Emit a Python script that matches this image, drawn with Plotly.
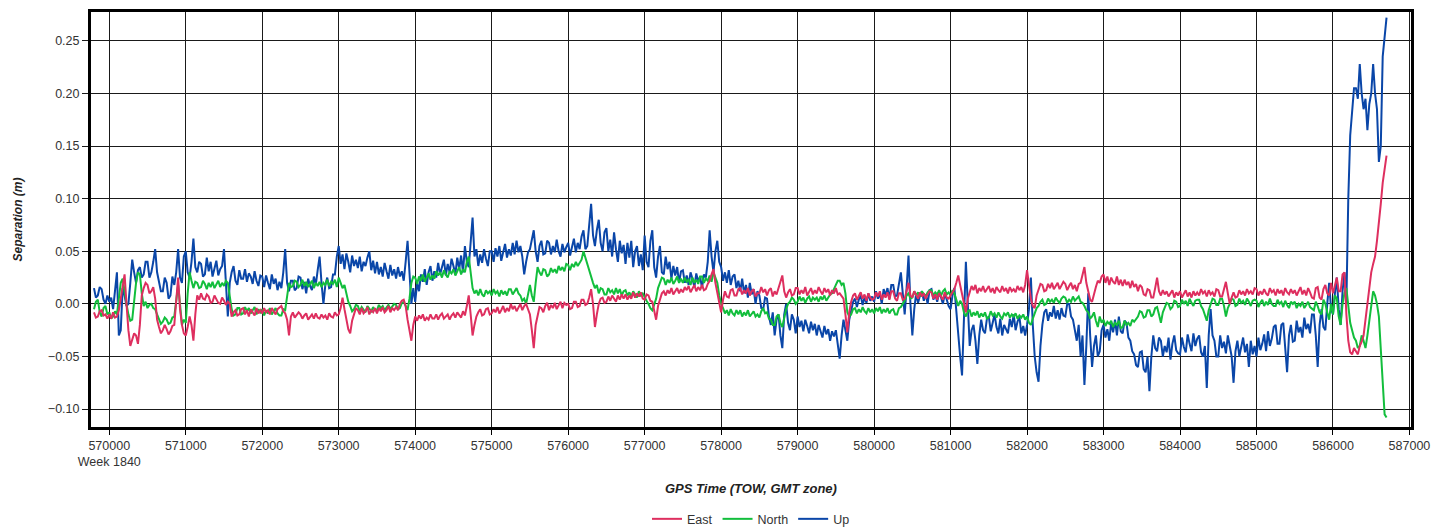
import plotly.graph_objects as go

T0 = 569800
STEP = 25

east = [
    -0.008, -0.013, -0.012, -0.007, -0.006, -0.011, -0.010, -0.014,
    # 570000
    -0.010, -0.014, -0.008, -0.013, -0.012, -0.006, 0.005, 0.018, 0.028, 0.000,
    -0.025, -0.040, -0.035, -0.028, -0.030, -0.038, -0.020, 0.008, 0.015, 0.020,
    0.018, 0.010, 0.012, 0.016, 0.005, -0.015, -0.022, -0.028, -0.025, -0.020,
    -0.024, -0.029, -0.026, -0.021, -0.020, 0.005, 0.025, -0.005, -0.020, -0.028,
    # 571000
    -0.030, -0.022, -0.012, -0.020, -0.035, -0.010, 0.008, 0.004, 0.010, 0.005,
    0.004, 0.009, 0.007, 0.001, 0.002, 0.008, 0.005, 0.001, 0.000, 0.006,
    0.003, -0.001, 0.002, 0.000, -0.012, -0.008, -0.006, -0.011, -0.010, -0.005,
    -0.004, -0.010, -0.006, -0.012, -0.005, -0.008, -0.011, -0.004, -0.009, -0.006,
    # 572000
    -0.009, -0.004, -0.008, -0.006, -0.010, -0.004, -0.007, -0.010, -0.005, -0.003,
    -0.002, -0.007, -0.009, -0.015, -0.030, -0.012, -0.008, -0.013, -0.010, -0.008,
    -0.010, -0.014, -0.011, -0.009, -0.015, -0.012, -0.010, -0.014, -0.009, -0.013,
    -0.014, -0.010, -0.013, -0.011, -0.015, -0.009, -0.012, -0.013, -0.008, -0.011,
    # 573000
    -0.010, -0.004, 0.006, -0.005, -0.015, -0.024, -0.028, -0.016, -0.010, -0.004,
    -0.006, -0.010, -0.004, -0.009, -0.007, -0.003, -0.010, -0.006, -0.008, -0.004,
    -0.009, -0.004, -0.007, -0.003, -0.008, -0.006, -0.002, -0.008, -0.004, -0.006,
    -0.003, -0.006, 0.000, 0.003, 0.004, -0.002, -0.015, -0.025, -0.035, -0.020,
    # 574000
    -0.012, -0.016, -0.011, -0.014, -0.010, -0.016, -0.013, -0.015, -0.010, -0.014,
    -0.014, -0.010, -0.015, -0.011, -0.009, -0.014, -0.012, -0.010, -0.015, -0.011,
    -0.009, -0.013, -0.008, -0.011, -0.013, -0.007, -0.011, -0.002, 0.008, -0.010,
    -0.030, -0.020, -0.012, -0.008, -0.005, -0.011, -0.010, -0.005, -0.004, -0.010,
    # 575000
    -0.009, -0.005, -0.008, -0.003, -0.009, -0.006, -0.002, -0.008, -0.004, -0.007,
    0.000, -0.005, -0.002, -0.007, -0.003, 0.000, -0.006, -0.002, 0.000, -0.006,
    -0.010, -0.025, -0.042, -0.020, -0.010, -0.003, -0.004, -0.008, -0.002, 0.001,
    -0.006, -0.001, -0.004, 0.001, -0.005, -0.002, 0.002, -0.004, 0.001, -0.001,
    # 576000
    0.000, -0.005, -0.004, 0.002, 0.002, -0.003, -0.002, 0.004, 0.004, -0.001,
    0.000, 0.006, 0.014, 0.000, -0.022, -0.010, 0.000, 0.005, 0.006, 0.001,
    0.002, 0.007, 0.003, 0.008, 0.005, 0.002, 0.008, 0.004, 0.009, 0.005,
    0.009, 0.004, 0.008, 0.005, 0.011, 0.006, 0.010, 0.007, 0.011, 0.005,
    # 577000
    0.004, 0.009, 0.008, 0.003, 0.002, -0.008, -0.015, -0.002, 0.005, 0.010,
    0.012, 0.008, 0.013, 0.010, 0.015, 0.009, 0.012, 0.015, 0.010, 0.014,
    0.011, 0.016, 0.013, 0.017, 0.011, 0.015, 0.018, 0.012, 0.016, 0.013,
    0.018, 0.013, 0.014, 0.019, 0.022, 0.028, 0.033, 0.020, 0.010, 0.000,
    # 578000
    -0.008, 0.004, 0.012, 0.007, 0.006, 0.013, 0.014, 0.008, 0.008, 0.014,
    0.015, 0.009, 0.013, 0.010, 0.015, 0.008, 0.012, 0.014, 0.007, 0.010,
    0.010, 0.016, 0.011, 0.014, 0.008, 0.013, 0.015, 0.007, 0.012, 0.009,
    0.015, 0.020, 0.027, 0.012, 0.006, 0.011, 0.014, 0.008, 0.009, 0.015,
    # 579000
    0.015, 0.009, 0.013, 0.010, 0.016, 0.008, 0.012, 0.015, 0.009, 0.013,
    0.010, 0.016, 0.012, 0.009, 0.015, 0.011, 0.014, 0.008, 0.013, 0.010,
    0.015, 0.009, 0.010, 0.008, 0.005, -0.010, -0.027, -0.008, 0.002, 0.008,
    0.010, 0.004, 0.008, 0.011, 0.005, 0.009, 0.003, 0.010, 0.006, 0.004,
    # 580000
    0.005, 0.011, 0.007, 0.012, 0.004, 0.009, 0.006, 0.011, 0.004, 0.012,
    0.012, 0.005, 0.003, 0.010, 0.010, 0.004, 0.005, 0.012, 0.020, 0.008,
    0.006, 0.012, 0.008, 0.005, 0.011, 0.007, 0.010, 0.005, 0.009, 0.012,
    0.011, 0.005, 0.009, 0.004, 0.010, 0.007, 0.004, 0.011, 0.006, 0.005,
    # 581000
    0.008, 0.012, 0.014, 0.020, 0.027, 0.018, 0.010, 0.000, -0.008, 0.005,
    0.012, 0.017, 0.013, 0.018, 0.010, 0.015, 0.012, 0.017, 0.011, 0.014,
    0.017, 0.011, 0.015, 0.010, 0.016, 0.013, 0.011, 0.017, 0.012, 0.015,
    0.010, 0.016, 0.012, 0.014, 0.011, 0.017, 0.013, 0.016, 0.011, 0.018,
    # 582000
    0.032, 0.018, 0.005, -0.002, -0.004, 0.008, 0.014, 0.019, 0.018, 0.012,
    0.013, 0.019, 0.015, 0.020, 0.014, 0.017, 0.020, 0.014, 0.018, 0.021,
    0.019, 0.013, 0.017, 0.020, 0.014, 0.018, 0.012, 0.019, 0.020, 0.028,
    0.035, 0.020, 0.010, 0.004, 0.002, 0.010, 0.016, 0.022, 0.020, 0.026,
    # 583000
    0.028, 0.020, 0.026, 0.018, 0.025, 0.021, 0.019, 0.026, 0.018, 0.023,
    0.017, 0.023, 0.018, 0.021, 0.015, 0.022, 0.016, 0.019, 0.012, 0.018,
    0.016, 0.009, 0.008, 0.014, 0.013, 0.006, 0.006, 0.015, 0.025, 0.012,
    0.008, 0.013, 0.009, 0.012, 0.007, 0.010, 0.013, 0.006, 0.011, 0.008,
    # 584000
    0.012, 0.006, 0.010, 0.013, 0.007, 0.011, 0.006, 0.012, 0.008, 0.011,
    0.008, 0.014, 0.010, 0.012, 0.007, 0.013, 0.009, 0.011, 0.007, 0.014,
    0.013, 0.007, 0.007, 0.013, 0.021, 0.010, 0.000, 0.006, 0.011, 0.006,
    0.007, 0.013, 0.009, 0.012, 0.008, 0.014, 0.010, 0.012, 0.009, 0.015,
    # 585000
    0.014, 0.008, 0.012, 0.009, 0.014, 0.010, 0.008, 0.015, 0.011, 0.013,
    0.008, 0.014, 0.010, 0.013, 0.008, 0.015, 0.011, 0.009, 0.014, 0.010,
    0.013, 0.008, 0.012, 0.016, 0.009, 0.013, 0.008, 0.015, 0.011, 0.006,
    0.005, 0.015, 0.016, 0.006, 0.004, 0.014, 0.018, 0.010, 0.008, 0.020,
    # 586000
    0.010, 0.018, 0.025, 0.012, 0.012, 0.028, 0.030, -0.010, -0.035, -0.046,
    -0.048, -0.042, -0.045, -0.048, -0.040, -0.036, -0.030, -0.015, 0.005, 0.018,
    0.030, 0.038, 0.045, 0.060, 0.075, 0.095, 0.115, 0.130, 0.141,
]

north = [
    -0.005, 0.002, 0.004, -0.008, -0.012, -0.004, -0.002, -0.010,
    # 570000
    -0.008, -0.014, -0.012, -0.007, -0.010, 0.005, 0.020, 0.024, 0.010, 0.000,
    -0.010, -0.016, -0.015, 0.005, 0.020, 0.030, 0.028, 0.010, -0.002, 0.002,
    -0.004, -0.001, 0.000, -0.004, -0.005, -0.010, -0.014, -0.019, -0.017, -0.013,
    -0.015, -0.019, -0.018, -0.013, -0.012, 0.005, 0.018, 0.000, -0.020, -0.015,
    # 571000
    -0.018, 0.010, 0.030, 0.022, 0.015, 0.021, 0.020, 0.015, 0.016, 0.022,
    0.019, 0.014, 0.020, 0.016, 0.021, 0.015, 0.018, 0.022, 0.016, 0.020,
    0.017, 0.022, 0.020, 0.008, -0.005, -0.011, -0.010, -0.004, -0.004, -0.010,
    -0.009, -0.003, -0.007, -0.004, -0.009, -0.006, -0.003, -0.010, -0.005, -0.008,
    # 572000
    -0.005, -0.011, -0.006, -0.009, -0.004, -0.010, -0.007, -0.004, -0.009, -0.011,
    -0.011, -0.005, -0.006, 0.005, 0.020, 0.016, 0.017, 0.022, 0.021, 0.016,
    0.018, 0.023, 0.017, 0.021, 0.016, 0.019, 0.022, 0.015, 0.020, 0.017,
    0.021, 0.016, 0.020, 0.018, 0.023, 0.017, 0.021, 0.019, 0.023, 0.016,
    # 573000
    0.025, 0.020, 0.015, 0.018, 0.010, 0.002, -0.002, -0.007, -0.005, -0.001,
    -0.002, -0.007, -0.003, -0.006, -0.008, -0.002, -0.005, -0.007, -0.003, -0.006,
    -0.006, -0.001, -0.004, -0.002, -0.006, -0.003, -0.001, -0.005, -0.002, 0.000,
    -0.001, -0.005, -0.004, 0.001, 0.002, -0.003, -0.006, 0.005, 0.020, 0.026,
    # 574000
    0.025, 0.019, 0.026, 0.022, 0.028, 0.021, 0.025, 0.029, 0.023, 0.027,
    0.024, 0.031, 0.027, 0.030, 0.025, 0.032, 0.028, 0.025, 0.031, 0.029,
    0.033, 0.027, 0.031, 0.035, 0.028, 0.033, 0.030, 0.040, 0.045, 0.030,
    0.015, 0.010, 0.013, 0.008, 0.014, 0.009, 0.007, 0.013, 0.010, 0.012,
    # 575000
    0.008, 0.014, 0.010, 0.012, 0.007, 0.013, 0.009, 0.012, 0.008, 0.014,
    0.014, 0.009, 0.012, 0.015, 0.010, 0.008, 0.003, 0.005, 0.000, 0.008,
    0.018, 0.008, 0.002, 0.020, 0.035, 0.030, 0.027, 0.033, 0.032, 0.026,
    0.028, 0.034, 0.030, 0.033, 0.029, 0.036, 0.032, 0.035, 0.031, 0.038,
    # 576000
    0.037, 0.032, 0.038, 0.035, 0.040, 0.036, 0.039, 0.042, 0.050, 0.044,
    0.038, 0.030, 0.025, 0.020, 0.015, 0.018, 0.010, 0.015, 0.014, 0.009,
    0.009, 0.015, 0.011, 0.013, 0.009, 0.015, 0.010, 0.014, 0.008, 0.012,
    0.013, 0.008, 0.011, 0.007, 0.012, 0.009, 0.006, 0.012, 0.008, 0.010,
    # 577000
    0.006, 0.003, 0.000, -0.004, -0.006, 0.000, 0.005, 0.015, 0.020, 0.025,
    0.024, 0.018, 0.023, 0.020, 0.025, 0.019, 0.022, 0.026, 0.020, 0.024,
    0.020, 0.025, 0.021, 0.023, 0.018, 0.025, 0.020, 0.023, 0.019, 0.026,
    0.026, 0.020, 0.024, 0.022, 0.027, 0.021, 0.030, 0.025, 0.020, 0.008,
    # 578000
    0.000, -0.004, -0.009, -0.006, -0.011, -0.005, -0.009, -0.011, -0.006, -0.010,
    -0.006, -0.012, -0.008, -0.011, -0.006, -0.012, -0.009, -0.007, -0.012, -0.010,
    -0.013, -0.007, -0.004, -0.009, -0.008, -0.014, -0.015, -0.020, -0.020, -0.012,
    -0.010, -0.018, -0.022, -0.012, -0.005, 0.000, 0.002, 0.006, 0.004, 0.000,
    # 579000
    0.002, 0.007, 0.003, 0.006, 0.001, 0.005, 0.007, 0.002, 0.006, 0.004,
    0.006, 0.002, 0.007, 0.004, 0.008, 0.003, 0.006, 0.009, 0.010, 0.015,
    0.018, 0.022, 0.022, 0.018, 0.020, 0.010, -0.008, -0.012, -0.010, -0.005,
    -0.004, -0.009, -0.005, -0.008, -0.003, -0.007, -0.009, -0.004, -0.008, -0.005,
    # 580000
    -0.009, -0.004, -0.007, -0.003, -0.009, -0.005, -0.008, -0.004, -0.009, -0.006,
    -0.005, -0.010, -0.010, -0.004, -0.003, 0.000, 0.003, 0.008, 0.010, 0.005,
    0.006, 0.012, 0.008, 0.011, 0.007, 0.012, 0.009, 0.007, 0.011, 0.013,
    0.013, 0.008, 0.011, 0.009, 0.013, 0.008, 0.012, 0.014, 0.009, 0.011,
    # 581000
    0.008, 0.013, 0.010, 0.004, -0.002, 0.003, 0.000, -0.008, -0.012, -0.007,
    -0.006, -0.012, -0.008, -0.011, -0.007, -0.013, -0.009, -0.012, -0.008, -0.014,
    -0.013, -0.007, -0.011, -0.009, -0.013, -0.008, -0.012, -0.014, -0.009, -0.011,
    -0.008, -0.013, -0.010, -0.012, -0.009, -0.014, -0.011, -0.013, -0.010, -0.015,
    # 582000
    -0.012, -0.018, -0.020, -0.014, -0.008, -0.004, -0.002, 0.002, 0.004, -0.001,
    0.000, 0.005, 0.002, 0.004, 0.001, 0.006, 0.003, 0.001, 0.005, 0.007,
    0.006, 0.001, 0.004, 0.002, 0.007, 0.003, 0.005, 0.007, 0.002, 0.001,
    -0.002, -0.006, -0.008, -0.014, -0.012, -0.008, -0.016, -0.022, -0.012, -0.018,
    # 583000
    -0.015, -0.021, -0.017, -0.019, -0.016, -0.022, -0.018, -0.020, -0.016, -0.023,
    -0.022, -0.016, -0.020, -0.018, -0.021, -0.015, -0.017, -0.014, -0.012, -0.007,
    -0.008, -0.013, -0.012, -0.006, -0.006, -0.012, -0.010, -0.004, -0.003, -0.010,
    -0.018, -0.008, -0.004, 0.001, 0.000, -0.005, -0.003, 0.003, 0.002, -0.003,
    # 584000
    -0.002, 0.004, 0.000, 0.003, -0.002, 0.005, 0.001, -0.002, 0.003, 0.004,
    0.004, -0.002, -0.005, -0.010, -0.016, -0.006, 0.000, 0.005, 0.004, -0.001,
    -0.001, 0.005, 0.005, -0.002, -0.012, -0.004, 0.000, 0.005, 0.004, -0.002,
    -0.001, 0.005, 0.001, 0.003, -0.001, 0.005, 0.002, -0.002, 0.003, 0.004,
    # 585000
    0.003, -0.003, 0.001, 0.004, -0.002, 0.002, -0.001, 0.005, 0.000, -0.002,
    -0.002, 0.004, 0.000, 0.002, -0.003, 0.003, -0.001, -0.004, 0.002, 0.000,
    0.002, -0.004, 0.000, -0.002, 0.002, -0.004, -0.001, 0.002, -0.003, -0.005,
    -0.006, 0.002, -0.002, -0.008, -0.010, 0.004, 0.000, -0.008, -0.015, 0.000,
    # 586000
    -0.010, 0.008, 0.005, -0.012, -0.020, 0.000, 0.010, 0.015, -0.005, -0.018,
    -0.025, -0.032, -0.035, -0.042, -0.040, -0.030, -0.035, -0.042, -0.030, -0.015,
    0.000, 0.012, 0.008, 0.000, -0.012, -0.045, -0.070, -0.105, -0.108,
]

up = [
    0.015, 0.006, 0.008, 0.016, 0.014, 0.004, 0.000, 0.008,
    # 570000
    0.002, 0.006, -0.005, 0.010, 0.030, -0.030, -0.025, 0.015, 0.008, -0.002,
    0.000, 0.020, 0.042, 0.030, 0.020, 0.032, 0.035, 0.025, 0.028, 0.040,
    0.040, 0.025, 0.030, 0.040, 0.052, 0.030, 0.020, 0.012, 0.012, 0.025,
    0.020, 0.005, 0.008, 0.026, 0.018, 0.030, 0.052, 0.025, 0.020, 0.045,
    # 571000
    0.050, 0.030, 0.025, 0.040, 0.062, 0.035, 0.030, 0.040, 0.038, 0.026,
    0.028, 0.044, 0.031, 0.040, 0.026, 0.035, 0.041, 0.027, 0.033, 0.036,
    0.052, 0.020, -0.012, 0.020, 0.030, 0.036, 0.022, 0.018, 0.032, 0.024,
    0.024, 0.033, 0.021, 0.029, 0.026, 0.019, 0.031, 0.022, 0.017, 0.027,
    # 572000
    0.026, 0.016, 0.027, 0.020, 0.014, 0.028, 0.019, 0.024, 0.013, 0.021,
    0.015, 0.030, 0.052, 0.020, 0.012, 0.022, 0.022, 0.013, 0.015, 0.026,
    0.025, 0.014, 0.021, 0.010, 0.024, 0.017, 0.013, 0.026, 0.018, 0.032,
    0.045, 0.020, 0.000, 0.018, 0.025, 0.015, 0.016, 0.028, 0.028, 0.045,
    # 573000
    0.055, 0.038, 0.047, 0.033, 0.048, 0.040, 0.030, 0.046, 0.036, 0.042,
    0.034, 0.045, 0.031, 0.040, 0.036, 0.044, 0.050, 0.032, 0.041, 0.029,
    0.040, 0.028, 0.035, 0.026, 0.039, 0.031, 0.024, 0.037, 0.027, 0.033,
    0.024, 0.035, 0.026, 0.031, 0.022, 0.040, 0.060, 0.030, 0.000, 0.015,
    # 574000
    0.002, 0.020, 0.012, 0.028, 0.021, 0.033, 0.018, 0.030, 0.036, 0.022,
    0.031, 0.025, 0.039, 0.028, 0.035, 0.042, 0.027, 0.038, 0.030, 0.043,
    0.036, 0.028, 0.044, 0.033, 0.046, 0.030, 0.055, 0.040, 0.035, 0.056,
    0.082, 0.045, 0.052, 0.036, 0.047, 0.039, 0.052, 0.043, 0.036, 0.050,
    # 575000
    0.050, 0.040, 0.053, 0.045, 0.055, 0.041, 0.049, 0.057, 0.044, 0.052,
    0.046, 0.058, 0.047, 0.060, 0.049, 0.055, 0.045, 0.028, 0.040, 0.049,
    0.052, 0.062, 0.070, 0.050, 0.040, 0.055, 0.060, 0.047, 0.048, 0.060,
    0.058, 0.047, 0.055, 0.049, 0.061, 0.050, 0.045, 0.057, 0.049, 0.054,
    # 576000
    0.058, 0.046, 0.055, 0.062, 0.049, 0.058, 0.052, 0.064, 0.070, 0.052,
    0.055, 0.075, 0.095, 0.065, 0.055, 0.070, 0.080, 0.058, 0.050, 0.068,
    0.072, 0.050, 0.061, 0.045, 0.068, 0.052, 0.040, 0.060, 0.048, 0.056,
    0.038, 0.058, 0.044, 0.060, 0.035, 0.050, 0.055, 0.036, 0.047, 0.032,
    # 577000
    0.065, 0.040, 0.035, 0.060, 0.070, 0.035, 0.025, 0.045, 0.055, 0.030,
    0.028, 0.045, 0.033, 0.040, 0.024, 0.036, 0.027, 0.035, 0.020, 0.031,
    0.032, 0.020, 0.027, 0.018, 0.030, 0.024, 0.016, 0.029, 0.021, 0.026,
    0.015, 0.028, 0.025, 0.040, 0.070, 0.045, 0.030, 0.050, 0.060, 0.040,
    # 578000
    0.035, 0.022, 0.030, 0.020, 0.032, 0.018, 0.026, 0.028, 0.015, 0.022,
    0.012, 0.024, 0.010, 0.018, 0.006, 0.020, 0.009, 0.014, 0.000, 0.012,
    0.008, -0.004, -0.005, 0.006, 0.005, -0.012, -0.020, -0.008, -0.030, -0.015,
    -0.010, -0.030, -0.042, -0.010, 0.000, -0.018, -0.025, -0.010, -0.015, -0.028,
    # 579000
    -0.012, -0.022, -0.016, -0.026, -0.015, -0.021, -0.028, -0.017, -0.025, -0.019,
    -0.030, -0.020, -0.027, -0.032, -0.021, -0.029, -0.024, -0.035, -0.026, -0.031,
    -0.025, -0.040, -0.052, -0.030, -0.015, -0.025, -0.035, -0.015, -0.005, 0.002,
    0.005, -0.003, 0.004, 0.008, -0.001, 0.006, 0.001, 0.010, 0.003, 0.007,
    # 580000
    0.002, 0.012, 0.005, 0.010, 0.000, 0.014, 0.008, 0.015, 0.005, 0.018,
    0.018, 0.007, 0.008, 0.020, 0.030, 0.010, -0.010, 0.015, 0.046, 0.000,
    -0.030, -0.005, 0.010, 0.001, 0.008, 0.012, 0.003, 0.009, 0.000, 0.013,
    0.014, 0.004, 0.009, 0.002, 0.011, 0.006, 0.000, 0.010, 0.003, -0.002,
    # 581000
    -0.005, 0.008, 0.015, -0.010, -0.030, -0.050, -0.068, -0.020, 0.040, 0.000,
    -0.040, -0.025, -0.020, -0.035, -0.057, -0.030, -0.015, -0.025, -0.028, -0.014,
    -0.012, -0.026, -0.018, -0.010, -0.022, -0.028, -0.014, -0.030, -0.020, -0.025,
    -0.028, -0.014, -0.022, -0.010, -0.025, -0.017, -0.012, -0.028, -0.021, -0.030,
    # 582000
    -0.020, -0.005, 0.025, -0.020, -0.050, -0.065, -0.074, -0.040, -0.020, -0.008,
    -0.005, -0.016, -0.008, -0.012, -0.002, -0.014, -0.006, -0.015, -0.004, -0.011,
    -0.012, 0.000, 0.000, -0.012, -0.015, -0.025, -0.035, -0.020, -0.050, -0.030,
    -0.077, -0.040, 0.010, -0.030, -0.060, -0.040, -0.030, -0.050, -0.045, -0.025,
    # 583000
    -0.020, -0.032, -0.024, -0.035, -0.018, -0.027, -0.015, -0.030, -0.012, -0.026,
    -0.028, -0.016, -0.018, -0.032, -0.035, -0.045, -0.048, -0.058, -0.060, -0.046,
    -0.045, -0.062, -0.065, -0.050, -0.083, -0.050, -0.030, -0.042, -0.045, -0.032,
    -0.035, -0.050, -0.040, -0.046, -0.032, -0.053, -0.038, -0.030, -0.044, -0.047,
    # 584000
    -0.048, -0.032, -0.041, -0.046, -0.029, -0.038, -0.045, -0.028, -0.040, -0.033,
    -0.030, -0.046, -0.050, -0.040, -0.080, -0.030, -0.005, -0.030, -0.035, -0.050,
    -0.050, -0.030, -0.042, -0.036, -0.047, -0.030, -0.040, -0.050, -0.075, -0.045,
    -0.035, -0.050, -0.041, -0.032, -0.046, -0.038, -0.060, -0.035, -0.048, -0.040,
    # 585000
    -0.050, -0.032, -0.044, -0.038, -0.029, -0.045, -0.026, -0.040, -0.033, -0.022,
    -0.020, -0.038, -0.038, -0.020, -0.018, -0.040, -0.065, -0.030, -0.020, -0.036,
    -0.035, -0.016, -0.027, -0.022, -0.032, -0.013, -0.024, -0.019, -0.028, -0.010,
    -0.010, -0.030, -0.060, -0.020, -0.005, -0.022, -0.025, 0.000, 0.020, -0.005,
    # 586000
    -0.010, 0.010, 0.025, -0.005, -0.020, 0.012, 0.030, 0.000, 0.100, 0.160,
    0.185, 0.205, 0.205, 0.195, 0.228, 0.200, 0.185, 0.195, 0.165, 0.190,
    0.200, 0.228, 0.200, 0.185, 0.135, 0.150, 0.235, 0.255, 0.272,
]

x_ticks = list(range(570000, 587001, 1000))
x_ticktext = [str(v) for v in x_ticks]
x_ticktext[0] = "570000<br>Week 1840"

series_names = ["East", "North", "Up"]
series_colors = ["#DE2F5F", "#12BE3C", "#0A46A8"]
series_values = [east, north, up]

FONT = "Liberation Sans, Arial, sans-serif"

fig = go.Figure()
# draw Up first, East last (legend reversed so it reads East, North, Up)
for name, color, vals in reversed(list(zip(series_names, series_colors, series_values))):
    t = [T0 + STEP * i for i in range(len(vals))]
    fig.add_trace(go.Scatter(
        x=t, y=vals, mode="lines", name=name,
        line=dict(color=color, width=2.0),
    ))

# page body has an 8px margin, so the figure is 8px smaller and margins shifted
fig.update_layout(
    width=1441, height=519,
    margin=dict(l=83, r=38, t=4, b=100),
    paper_bgcolor="white", plot_bgcolor="white",
    font=dict(family=FONT, size=12, color="#333333"),
    showlegend=True,
    legend=dict(
        orientation="h", xref="paper", x=0.5, xanchor="center",
        yref="container", y=0.015, yanchor="middle",
        traceorder="reversed", font=dict(size=12.5, color="#333333"),
        itemwidth=30, bgcolor="rgba(0,0,0,0)",
    ),
    xaxis=dict(
        range=[569761, 587020],
        tickvals=x_ticks, ticktext=x_ticktext,
        showgrid=True, gridcolor="#1a1a1a", gridwidth=1,
        showline=True, linecolor="black", linewidth=3, mirror=True,
        ticks="outside", ticklen=5, tickcolor="black", tickwidth=1,
        tickfont=dict(size=12.5, color="#333333"),
        zeroline=False, automargin=False,
    ),
    yaxis=dict(
        range=[-0.117, 0.2774],
        tickvals=[-0.10, -0.05, 0.0, 0.05, 0.10, 0.15, 0.20, 0.25],
        tickformat=".2f",
        showgrid=True, gridcolor="#1a1a1a", gridwidth=1,
        showline=True, linecolor="black", linewidth=3, mirror=True,
        ticks="outside", ticklen=6, tickcolor="#1a1a1a", tickwidth=1,
        tickfont=dict(size=12.5, color="#333333"),
        zeroline=True, zerolinecolor="#1a1a1a", zerolinewidth=1, automargin=False,
    ),
    annotations=[
        dict(text="<b><i>GPS Time (TOW, GMT zone)</i></b>", xref="paper", yref="paper",
             x=0.5, y=-0.149, yanchor="middle", showarrow=False,
             font=dict(size=13, color="#222222", family=FONT)),
        dict(text="<b><i>Separation (m)</i></b>", xref="paper", yref="paper",
             x=0, xanchor="center", y=0.5, yanchor="middle", showarrow=False, textangle=-90,
             xshift=-74, font=dict(size=12, color="#222222", family=FONT)),
    ],
)

fig.write_html("out.html")
